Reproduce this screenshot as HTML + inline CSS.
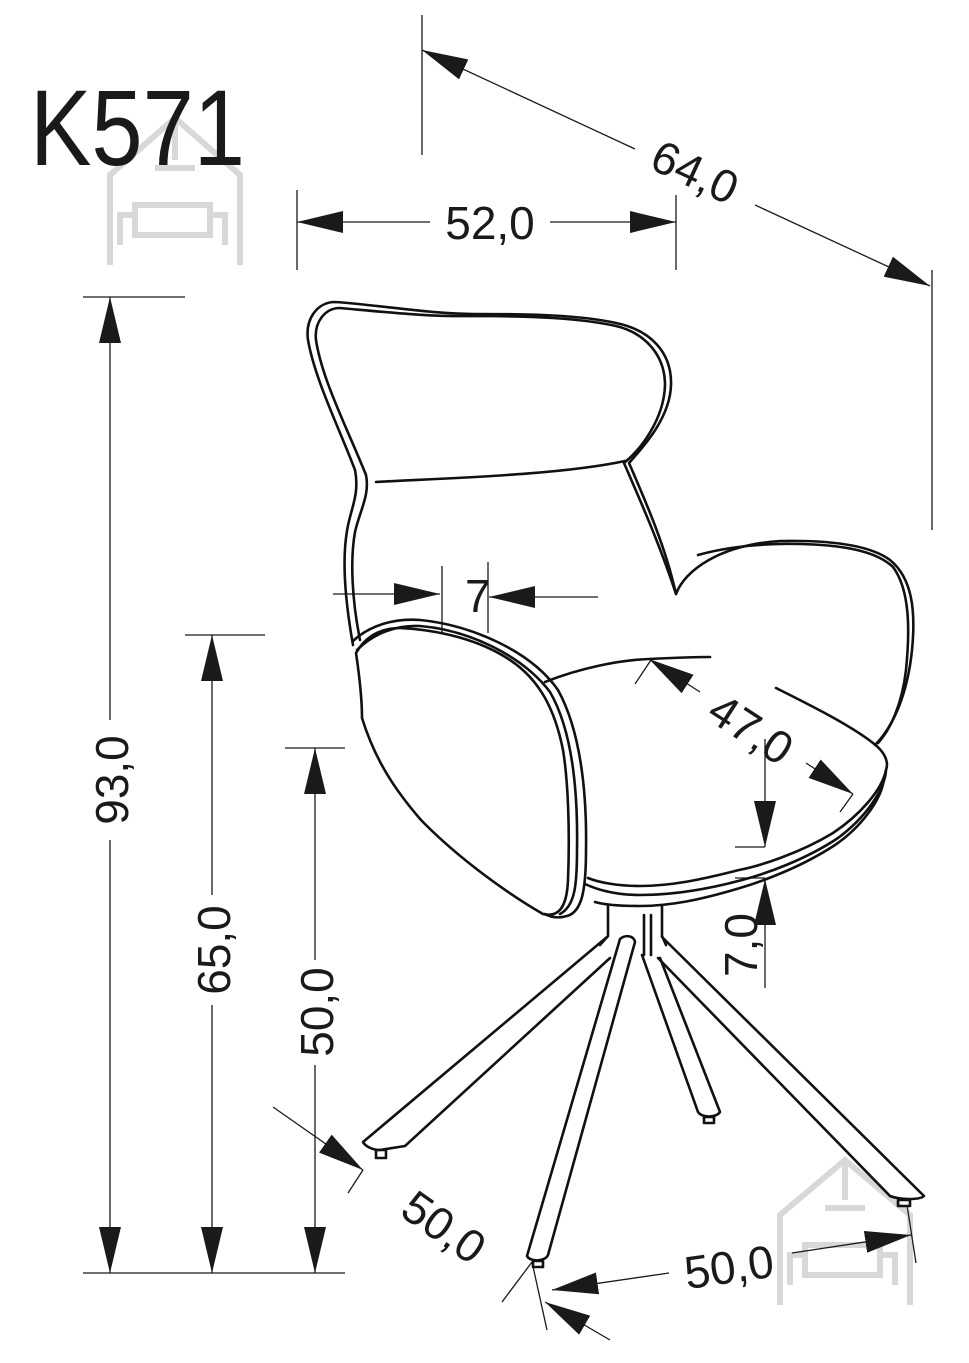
<!DOCTYPE html>
<html><head><meta charset="utf-8"><style>
html,body{margin:0;padding:0;background:#fff;}
svg{display:block}
text{font-family:"Liberation Sans",Arial,sans-serif;fill:#1a1a1a}
</style></head><body>
<svg width="969" height="1363" viewBox="0 0 969 1363" xmlns="http://www.w3.org/2000/svg">
<defs>
<marker id="a" viewBox="0 0 46 22" refX="46" refY="11" markerWidth="46" markerHeight="22" markerUnits="userSpaceOnUse" orient="auto-start-reverse">
<path d="M0,0 L46,11 L0,22 z" fill="#1a1a1a"/>
</marker>
</defs>

<g fill="none" stroke="#d8d8d8" stroke-width="6">
<path d="M110,265 V175 L175,118 L240,175 V265"/>
<path d="M175,118 V160 M155,168 H195"/>
<path d="M120,245 V215 H135 V235 H210 V215 H225 V245 M135,215 V205 H210 V215"/>
<path d="M780,1305 V1215 L845,1160 L910,1215 V1305"/>
<path d="M845,1160 V1200 M825,1208 H865"/>
<path d="M790,1285 V1255 H805 V1275 H880 V1255 H895 V1285 M805,1255 V1245 H880 V1255"/>
</g>

<text x="30" y="165" font-size="108" textLength="215" lengthAdjust="spacingAndGlyphs">K571</text>

<g stroke="#1a1a1a" stroke-width="1.3" fill="none">
<line x1="422" y1="15" x2="422" y2="155"/>
<line x1="932" y1="270" x2="932" y2="530"/>
<line x1="297" y1="190" x2="297" y2="270"/>
<line x1="676" y1="195" x2="676" y2="270"/>
<line x1="83" y1="297" x2="185" y2="297"/>
<line x1="83" y1="1273" x2="345" y2="1273"/>
<line x1="185" y1="635" x2="265" y2="635"/>
<line x1="285" y1="748" x2="345" y2="748"/>
<line x1="635" y1="149" x2="422" y2="50" marker-end="url(#a)"/>
<line x1="755" y1="205" x2="930" y2="286" marker-end="url(#a)"/>
<line x1="430" y1="222" x2="297" y2="222" marker-end="url(#a)"/>
<line x1="550" y1="222" x2="676" y2="222" marker-end="url(#a)"/>
<line x1="110" y1="720" x2="110" y2="297" marker-end="url(#a)"/>
<line x1="110" y1="840" x2="110" y2="1273" marker-end="url(#a)"/>
<line x1="212" y1="895" x2="212" y2="635" marker-end="url(#a)"/>
<line x1="212" y1="1005" x2="212" y2="1273" marker-end="url(#a)"/>
<line x1="315" y1="960" x2="315" y2="748" marker-end="url(#a)"/>
<line x1="315" y1="1065" x2="315" y2="1273" marker-end="url(#a)"/>
<line x1="333" y1="594" x2="440" y2="594" marker-end="url(#a)"/>
<line x1="598" y1="597" x2="489" y2="597" marker-end="url(#a)"/>
<line x1="442" y1="566" x2="442" y2="634"/>
<line x1="488" y1="562" x2="488" y2="633"/>
<line x1="700" y1="692" x2="649" y2="659" marker-end="url(#a)"/>
<line x1="806" y1="763" x2="853" y2="794" marker-end="url(#a)"/>
<line x1="635" y1="684" x2="651" y2="660"/>
<line x1="853" y1="794" x2="840" y2="812"/>
<line x1="765" y1="739" x2="765" y2="847" marker-end="url(#a)"/>
<line x1="735" y1="847" x2="765" y2="847"/>
<line x1="765" y1="988" x2="765" y2="879" marker-end="url(#a)"/>
<line x1="735" y1="878" x2="765" y2="878"/>
<line x1="273" y1="1107" x2="363" y2="1170" marker-end="url(#a)"/>
<line x1="348" y1="1193" x2="363" y2="1170"/>
<line x1="610" y1="1340" x2="545" y2="1302" marker-end="url(#a)"/>
<line x1="502" y1="1302" x2="532" y2="1262"/>
<line x1="532" y1="1262" x2="547" y2="1330"/>
<line x1="669" y1="1273" x2="552" y2="1290" marker-end="url(#a)"/>
<line x1="792" y1="1253" x2="911" y2="1235" marker-end="url(#a)"/>
<line x1="907" y1="1205" x2="916" y2="1263"/>
</g>

<g font-size="46">
<text x="695" y="188" text-anchor="middle" transform="rotate(25 695 172)">64,0</text>
<text x="490" y="239" text-anchor="middle">52,0</text>
<text x="0" y="0" text-anchor="middle" transform="translate(128,780) rotate(-90)">93,0</text>
<text x="0" y="0" text-anchor="middle" transform="translate(230,950) rotate(-90)">65,0</text>
<text x="0" y="0" text-anchor="middle" transform="translate(333,1012) rotate(-90)">50,0</text>
<text x="465" y="612">7</text>
<text x="751" y="745" text-anchor="middle" transform="rotate(33 751 729)">47,0</text>
<text x="0" y="0" text-anchor="middle" transform="translate(757,945) rotate(-90)">7,0</text>
<text x="444" y="1243" text-anchor="middle" transform="rotate(35 444 1227)">50,0</text>
<text x="729" y="1283" text-anchor="middle" transform="rotate(-8 729 1267)">50,0</text>
</g>

<g stroke="#111" stroke-width="2.6" fill="none" stroke-linejoin="round" stroke-linecap="round">
<path d="M353,645 C345,600 342,560 347,531 C350,510 360,495 355,470 C340,430 315,380 308,340 C305,318 318,302 335,302 C380,305 430,314 474,314 C530,314 580,315 616,323 C650,330 672,352 671,385 C670,420 640,450 629,463 C645,500 665,545 676,594 C685,570 720,545 780,541 C830,540 870,545 890,560 C912,578 916,610 912,650 C908,690 895,725 875,745"/>
<path d="M360,640 C352,600 350,560 355,532 C360,510 370,495 366,475 C348,430 322,380 316,340 C314,322 325,308 340,308 C385,312 430,317 474,316 C530,316 580,318 616,326 C645,333 665,355 665,385 C664,420 640,450 624,463 C640,500 660,545 676,594"/>
<path d="M698,555 C730,546 770,543 800,544 C840,545 875,550 893,567 C910,590 910,630 906,670 C902,705 890,730 878,743"/>
<path d="M376,482 C450,478 560,475 625,461"/>
<path d="M353,641 C370,625 395,618 420,620 C470,625 530,650 558,690 C580,730 587,790 586,850 C586,890 582,912 567,916 C560,918 552,918 545,914"/>
<path d="M357,650 C375,632 398,625 420,626 C468,630 522,655 550,692 C572,730 578,790 577,850 C577,885 575,906 560,914"/>
<path d="M356,653 C360,680 362,700 362,718 C375,760 395,790 421,820 C460,860 510,895 543,914 C560,918 567,905 568,880 C570,830 568,780 563,750 C555,710 540,680 510,660 C480,640 440,630 400,628 C380,628 365,637 356,653 Z"/>
<path d="M545,682 C580,668 620,660 649,659 C670,658 695,657 710,657"/>
<path d="M776,688 C810,705 850,725 873,743 C885,752 889,762 886,770 C882,790 860,815 833,833 C800,853 760,866 739,870 C700,880 670,886 640,886 C620,886 600,883 588,878"/>
<path d="M886,770 C885,790 865,818 838,838 C805,860 765,874 742,880 C705,890 672,895 640,895 C615,895 598,890 585,884"/>
<path d="M884,778 C882,800 860,828 835,845 C800,868 760,882 740,888 C700,900 670,906 640,906 C620,906 605,905 595,902"/>
<path d="M608,906 V936 M662,906 V936 M644,915 V955 M651,915 V955 M608,936 L600,945 M662,936 L666,945"/>
<path d="M607,937 L363,1142 C365,1146 372,1150 380,1150 L405,1146 L610,958"/>
<path d="M376,1150 h10 v8 h-10 z"/>
<path d="M620,939 C626,934 634,936 635,942 L548,1255 C545,1262 530,1262 527,1256 Z"/>
<path d="M533,1261 h10 v6 h-10 z"/>
<path d="M642,955 L698,1112 C702,1118 716,1118 720,1112 L660,958"/>
<path d="M704,1117 h10 v6 h-10 z"/>
<path d="M662,937 L924,1196 C920,1200 900,1200 890,1196 L658,958"/>
<path d="M898,1200 h12 v6 h-12 z"/>
</g>
</svg>
</body></html>
